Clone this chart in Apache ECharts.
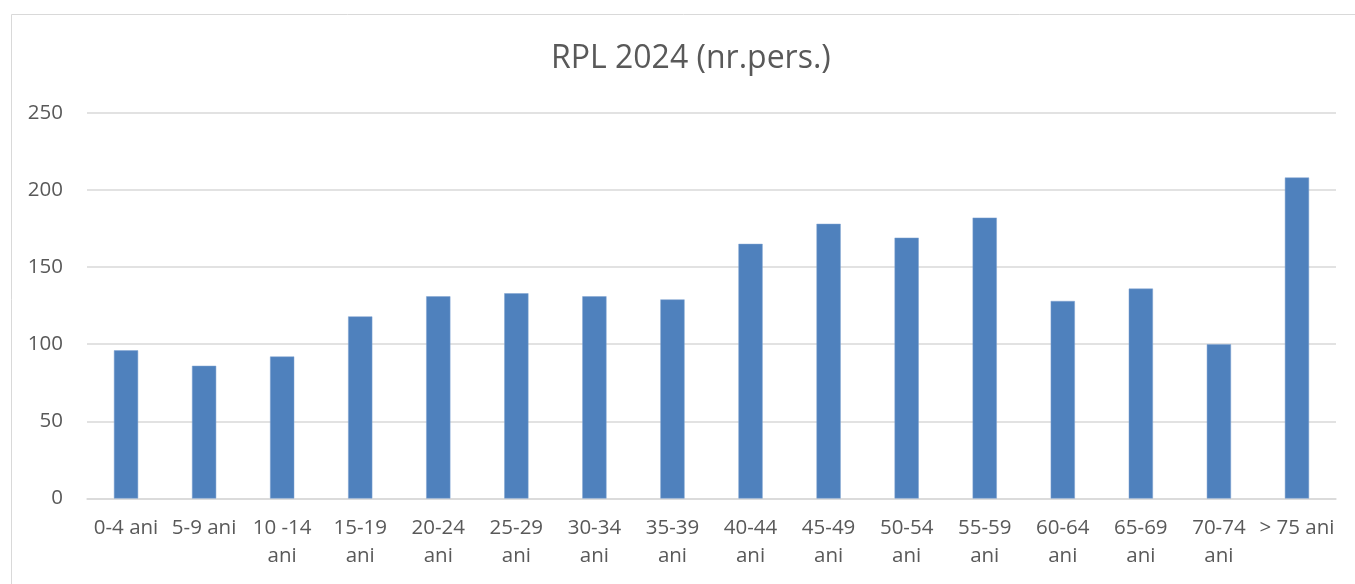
<!DOCTYPE html>
<html>
<head>
<meta charset="utf-8">
<title>RPL 2024</title>
<script src="https://cdn.jsdelivr.net/npm/echarts@6/dist/echarts.min.js"></script>
<style>
    html, body { margin: 0; padding: 0; background: #fff; }
    #chart { width: 1355px; height: 584px; }
</style>
</head>
<body>
<div id="chart"></div>
<script>
// age groups
var categories = ['0-4 ani', '5-9 ani', '10 -14 ani', '15-19 ani', '20-24 ani', '25-29 ani', '30-34 ani', '35-39 ani',
    '40-44 ani', '45-49 ani', '50-54 ani', '55-59 ani', '60-64 ani', '65-69 ani', '70-74 ani', '> 75 ani'];
// labels as wrapped in the picture
var tickLabels = ['0-4 ani', '5-9 ani', '10 -14\nani', '15-19\nani', '20-24\nani', '25-29\nani', '30-34\nani', '35-39\nani',
    '40-44\nani', '45-49\nani', '50-54\nani', '55-59\nani', '60-64\nani', '65-69\nani', '70-74\nani', '> 75 ani'];
// nr. persoane
var persons = [96, 86, 92, 118, 131, 133, 131, 129, 165, 178, 169, 182, 128, 136, 100, 208];
var yTicks = [0, 50, 100, 150, 200, 250];

var chart = echarts.init(document.getElementById('chart'));

var option = {
    animation: false,
    textStyle: {fontFamily: 'Open Sans'},
    title: {
        text: 'RPL 2024 (nr.pers.)',
        left: 546,
        top: 38,
        textStyle: {
            fontFamily: 'Open Sans',
            fontSize: 32,
            fontWeight: 'normal',
            color: '#595959'
        }
    },
    // outer chart border
    graphic: [{
        type: 'rect',
        shape: {x: 11.5, y: 14.5, width: 1400, height: 700},
        style: {fill: 'none', stroke: '#d9d9d9', lineWidth: 1},
        silent: true
    }],
    grid: {left: 87, right: 19, top: 112.7, bottom: 85.5},
    xAxis: {
        type: 'category',
        data: categories,
        axisLine: {lineStyle: {color: '#d9d9d9', width: 1.5}},
        axisTick: {show: false},
        axisLabel: {
            interval: 0,
            margin: 16,
            fontSize: 20.5,
            lineHeight: 28,
            color: '#595959',
            formatter: function (v, i) { return tickLabels[i]; }
        }
    },
    yAxis: {
        type: 'value',
        min: yTicks[0],
        max: yTicks[yTicks.length - 1],
        interval: 50,
        axisLine: {show: false},
        axisTick: {show: false},
        splitLine: {lineStyle: {color: '#d9d9d9', width: 1.5}},
        axisLabel: {margin: 24, fontSize: 20.5, color: '#595959'}
    },
    series: [{
        name: 'RPL 2024',
        type: 'bar',
        data: persons,
        barWidth: '31%',
        itemStyle: {color: '#4f81bd', borderColor: '#7fa3d0', borderWidth: 0.5}
    }]
};

chart.setOption(option);
</script>
</body>
</html>
